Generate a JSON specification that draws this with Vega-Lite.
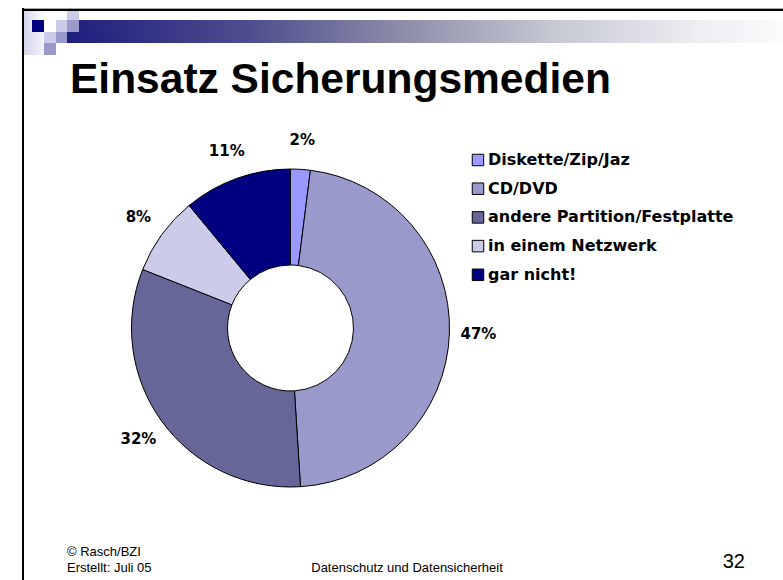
{
  "$schema": "https://vega.github.io/schema/vega-lite/v6.json",
  "padding": {"left": 22, "top": 8, "right": 0, "bottom": 0},
  "background": "#ffffff",
  "config": {"view": {"stroke": null}},
  "spacing": 0,
  "hconcat": [
    {"width": 2, "height": 572, "data": {"values": []}, "mark": "rect", "encoding": {}, "view": {"fill": "#000000", "stroke": null}},
    {
      "spacing": 0,
      "vconcat": [
        {"width": 759, "height": 1, "data": {"values": []}, "mark": "rect", "encoding": {}, "view": {"fill": "#a8a8a8", "stroke": null}},
        {"width": 759, "height": 2, "data": {"values": []}, "mark": "rect", "encoding": {}, "view": {"fill": "#000000", "stroke": null}},
        {"width": 759, "height": 9, "data": {"values": []}, "mark": "rect", "encoding": {},
          "view": {"stroke": null, "fill": {"gradient": "linear", "x1": 0, "y1": 0, "x2": 1, "y2": 0, "stops": [
            {"offset": 0, "color": "#d4d4ec"}, {"offset": 0.02635, "color": "#ffffff"},
            {"offset": 0.05665, "color": "#ffffff"}, {"offset": 0.05665, "color": "#ccccea"},
            {"offset": 0.07246, "color": "#ccccea"}, {"offset": 0.07246, "color": "#ffffff"},
            {"offset": 1, "color": "#ffffff"}]}}},
        {"width": 759, "height": 12, "data": {"values": []}, "mark": "rect", "encoding": {},
          "view": {"stroke": null, "fill": {"gradient": "linear", "x1": 0, "y1": 0, "x2": 1, "y2": 0, "stops": [
            {"offset": 0, "color": "#d4d4ec"}, {"offset": 0.01054, "color": "#e6e6f4"},
            {"offset": 0.01054, "color": "#000080"}, {"offset": 0.02635, "color": "#000080"},
            {"offset": 0.02635, "color": "#ffffff"}, {"offset": 0.04216, "color": "#ffffff"},
            {"offset": 0.04216, "color": "#ccccea"}, {"offset": 0.05665, "color": "#ccccea"},
            {"offset": 0.05665, "color": "#9999cc"}, {"offset": 0.07246, "color": "#9999cc"},
            {"offset": 0.07246, "color": "#22227f"}, {"offset": 0.2977, "color": "#4e4e8e"},
            {"offset": 0.4954, "color": "#8c8ca8"}, {"offset": 0.693, "color": "#c4c6d2"},
            {"offset": 0.8906, "color": "#eeeef3"}, {"offset": 1, "color": "#fbfbfd"}]}}},
        {"width": 759, "height": 11, "data": {"values": []}, "mark": "rect", "encoding": {},
          "view": {"stroke": null, "fill": {"gradient": "linear", "x1": 0, "y1": 0, "x2": 1, "y2": 0, "stops": [
            {"offset": 0, "color": "#d4d4ec"}, {"offset": 0.02635, "color": "#f4f4fa"},
            {"offset": 0.02635, "color": "#ccccea"}, {"offset": 0.04216, "color": "#ccccea"},
            {"offset": 0.04216, "color": "#9999cc"}, {"offset": 0.05665, "color": "#9999cc"},
            {"offset": 0.05665, "color": "#1e1e7e"}, {"offset": 0.2977, "color": "#4e4e8e"},
            {"offset": 0.4954, "color": "#8c8ca8"}, {"offset": 0.693, "color": "#c4c6d2"},
            {"offset": 0.8906, "color": "#eeeef3"}, {"offset": 1, "color": "#fbfbfd"}]}}},
        {"width": 759, "height": 12, "data": {"values": []}, "mark": "rect", "encoding": {},
          "view": {"stroke": null, "fill": {"gradient": "linear", "x1": 0, "y1": 0, "x2": 1, "y2": 0, "stops": [
            {"offset": 0, "color": "#d4d4ec"}, {"offset": 0.02635, "color": "#f4f4fa"},
            {"offset": 0.02635, "color": "#9999cc"}, {"offset": 0.04216, "color": "#9999cc"},
            {"offset": 0.04216, "color": "#ffffff"}, {"offset": 1, "color": "#ffffff"}]}}},
        {"width": 759, "height": 3, "data": {"values": []}, "mark": "rect", "encoding": {}},
        {
          "width": 533,
          "height": 410,
          "title": {"text": "Einsatz Sicherungsmedien", "orient": "top", "anchor": "start", "frame": "group",
            "offset": -12, "baseline": "alphabetic", "dx": 46, "font": "Liberation Sans", "fontSize": 42.5,
            "fontWeight": "bold", "color": "#000000"},
          "data": {"values": [
            {"kategorie": "Diskette/Zip/Jaz", "anteil": 0.02, "ord": 1},
            {"kategorie": "CD/DVD", "anteil": 0.47, "ord": 2},
            {"kategorie": "andere Partition/Festplatte", "anteil": 0.32, "ord": 3},
            {"kategorie": "in einem Netzwerk", "anteil": 0.08, "ord": 4},
            {"kategorie": "gar nicht!", "anteil": 0.11, "ord": 5}
          ]},
          "encoding": {
            "theta": {"field": "anteil", "type": "quantitative", "stack": true},
            "order": {"field": "ord", "type": "quantitative"}
          },
          "layer": [
            {
              "mark": {"type": "arc", "outerRadius": 159, "innerRadius": 63, "stroke": "#000000", "strokeWidth": 1},
              "encoding": {
                "color": {
                  "field": "kategorie", "type": "nominal",
                  "scale": {
                    "domain": ["Diskette/Zip/Jaz", "CD/DVD", "andere Partition/Festplatte", "in einem Netzwerk", "gar nicht!"],
                    "range": ["#9999ff", "#9999cc", "#666699", "#ccccea", "#000080"]
                  },
                  "legend": {
                    "orient": "none", "legendX": 448, "legendY": 144, "title": null,
                    "symbolType": "square", "symbolSize": 132, "symbolStrokeColor": "#000000", "symbolStrokeWidth": 1,
                    "labelFont": "DejaVu Sans", "labelFontSize": 16, "labelFontWeight": "bold", "labelColor": "#000000",
                    "rowPadding": 12.7, "labelOffset": 2, "padding": 0, "labelLimit": 400,
                    "symbolOpacity": 1
                  }
                }
              }
            },
            {
              "mark": {"type": "text", "radius": 188, "font": "DejaVu Sans", "fontSize": 15, "fontWeight": "bold", "fill": "#000000"},
              "encoding": {
                "text": {"field": "anteil", "type": "quantitative", "format": ".0%"},
                "detail": {"field": "kategorie", "type": "nominal"}
              }
            }
          ]
        },
        {
          "spacing": 0,
          "hconcat": [
            {"width": 250, "height": 1, "data": {"values": []}, "mark": "rect", "encoding": {},
              "title": {"text": ["© Rasch/BZI", "Erstellt: Juli 05"], "orient": "bottom", "anchor": "start", "frame": "group",
                "offset": 22, "baseline": "alphabetic", "dx": 43, "font": "Liberation Sans", "fontSize": 13,
                "fontWeight": "normal", "lineHeight": 16, "color": "#000000"}},
            {"width": 266, "height": 1, "data": {"values": []}, "mark": "rect", "encoding": {},
              "title": {"text": "Datenschutz und Datensicherheit", "orient": "bottom", "anchor": "middle", "frame": "group",
                "offset": 38, "baseline": "alphabetic", "font": "Liberation Sans", "fontSize": 13,
                "fontWeight": "normal", "color": "#000000"}},
            {"width": 205, "height": 1, "data": {"values": []}, "mark": "rect", "encoding": {},
              "title": {"text": "32", "orient": "bottom", "anchor": "end", "frame": "group",
                "offset": 34, "baseline": "alphabetic", "font": "Liberation Sans", "fontSize": 20,
                "fontWeight": "normal", "color": "#000000"}}
          ]
        }
      ]
    }
  ]
}
